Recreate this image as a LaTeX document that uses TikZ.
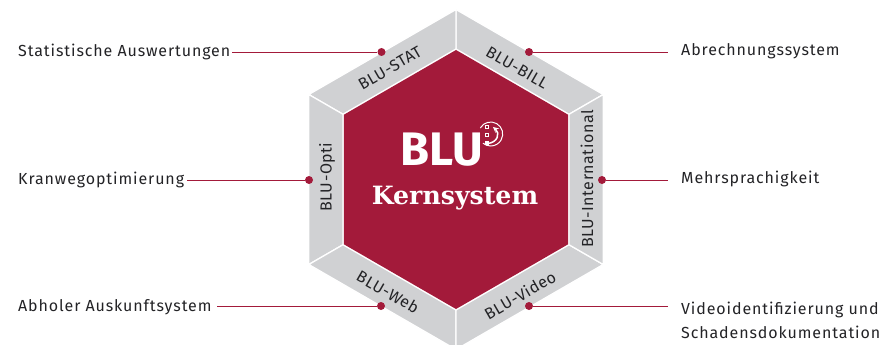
\documentclass[tikz,border=0pt]{standalone}
\usepackage{fontspec}
\setmainfont{Fira Sans}
\newfontfamily\kernfont{DejaVu Serif}
\usetikzlibrary{calc}
\definecolor{bluered}{RGB}{163,26,58}
\definecolor{blugrey}{RGB}{208,209,211}
\definecolor{blutext}{RGB}{35,35,38}
\tikzset{
 segm/.style={fill=blugrey, draw=white, line width=1.3pt, line join=miter},
 reddot/.style={circle, fill=bluered, inner sep=0, minimum size=8pt},
 conn/.style={bluered, line width=.8pt},
 lbl/.style={text=blutext, font=\fontsize{16}{24}\selectfont\addfontfeature{LetterSpace=5.6}, inner sep=2pt},
 lblr/.style={lbl, anchor=west, align=left, inner xsep=13pt},
 seglbl/.style={text=blutext, font=\fontsize{16}{18}\selectfont\addfontfeature{LetterSpace=3.4}, inner sep=0},
}
\begin{document}
\begin{tikzpicture}[x=1pt, y=-1pt]
\useasboundingbox (0,0) rectangle (880,345);
\coordinate (c) at (456,179.5);
% grey segments
\foreach \a [evaluate=\a as \b using int(\a+60)] in {30,90,150,210,270,330} {
 \draw[segm] ($(c)+(\a:170 and -170)$) -- ($(c)+(\b:170 and -170)$) -- ($(c)+(\b:130.5 and -130.5)$) -- ($(c)+(\a:130.5 and -130.5)$) -- cycle;
}
\fill[bluered] ($(c)+(30:129.5 and -129.5)$) -- ($(c)+(90:129.5 and -129.5)$) -- ($(c)+(150:129.5 and -129.5)$) -- ($(c)+(210:129.5 and -129.5)$) -- ($(c)+(270:129.5 and -129.5)$) -- ($(c)+(330:129.5 and -129.5)$) -- cycle;
% segment names
\node[seglbl, rotate=30] (nstat) at (390,68) {BLU-STAT};
\node[seglbl, rotate=-30] (nbill) at (517,68) {BLU-BILL};
\node[seglbl, rotate=90] (nopti) at (327,177) {BLU-Opti};
\node[seglbl, rotate=90] (nint) at (587,179) {BLU-International};
\node[seglbl, rotate=-30] (nweb) at (388,292) {BLU-Web};
\node[seglbl, rotate=30] (nvid) at (520,295) {BLU-Video};
% centre
\node[text=white, inner sep=0, font=\fontsize{47}{47}\selectfont\bfseries] (blu) at (442,149.5) {BLU};
\node[text=white, inner sep=0, font=\kernfont\fontsize{25.2}{25}\selectfont\bfseries] (kern) at (455,198) {Kernsystem};
\draw[white, line width=1pt] (480.3,128) arc (-150:130:12);
\draw[white, line width=1.5pt, ->, >=stealth] (487,143.5) .. controls (498,143) and (500,133) .. (493,127);
\foreach \y in {125.5,133.5} {
 \draw[white, line width=.7pt] (485,\y) rectangle ++(3,3);
}
\fill[white] (484.5,140.5) rectangle ++(4,4);
% dots
\node[reddot] (dstat) at (381.5,52) {};
\node[reddot] (dbill) at (529,52) {};
\node[reddot] (dopti) at (309,180) {};
\node[reddot] (dint) at (602,180) {};
\node[reddot] (dweb) at (381,306) {};
\node[reddot] (dvid) at (529,306) {};
% labels
\node[lbl, anchor=west] (stat) at (16,51.5) {Statistische Auswertungen};
\node[lbl, anchor=west] (opti) at (16,179.5) {Kranwegoptimierung};
\node[lbl, anchor=west] (web) at (16,307.5) {Abholer Auskunftsystem};
\node[lblr] (bill) at (668,51.5) {Abrechnungssystem};
\node[lblr] (int) at (668,178.5) {Mehrsprachigkeit};
\node[lblr] (vid) at (668,320) {Videoidentifizierung und\\Schadensdokumentation};
% connectors
\draw[conn] (dstat) -- (dstat -| stat.east);
\draw[conn] (dopti) -- ($(dopti -| opti.east)+(1,0)$);
\draw[conn] (dweb) -- ($(dweb -| web.east)+(3,0)$);
\draw[conn] (dbill) -- (dbill -| bill.west);
\draw[conn] (dint) -- (dint -| int.west);
\draw[conn] (dvid) -- (dvid -| vid.west);
\end{tikzpicture}
\end{document}
